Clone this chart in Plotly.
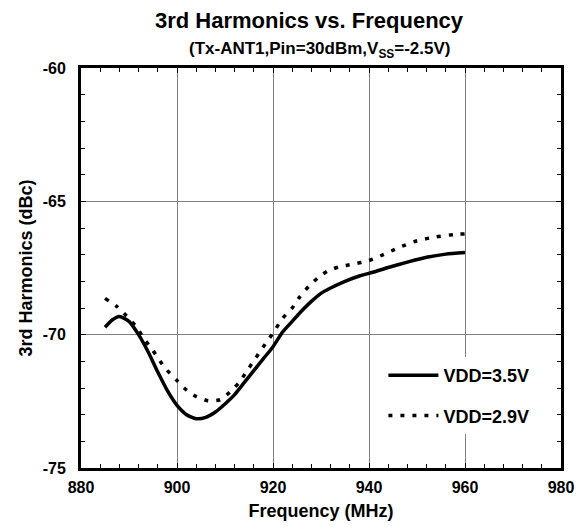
import plotly.graph_objects as go

# ---- data ----
freq_35 = [885, 886.5, 888, 890, 892, 894, 896, 898, 900, 902, 904, 906, 908, 910,
           912, 914, 916, 918, 920, 922, 924, 926, 928, 930, 932, 935, 938, 941,
           944, 948, 952, 956, 960]
h3_35 = [-69.72, -69.45, -69.32, -69.5, -70.0, -70.65, -71.4, -72.1, -72.65, -73.0,
         -73.15, -73.1, -72.9, -72.6, -72.25, -71.8, -71.35, -70.9, -70.45, -69.9,
         -69.5, -69.1, -68.75, -68.45, -68.25, -68.0, -67.8, -67.65, -67.48, -67.28,
         -67.1, -66.98, -66.92]

freq_29 = [885, 887.5, 889.5, 891.5, 893, 895, 897.5, 900, 902, 904, 906.5, 909, 911,
           913, 914.5, 916, 917.5, 919, 920.5, 922, 924, 925.5, 927.5, 929.5, 931.5,
           934, 936.5, 940, 943, 946, 950, 954, 958, 960]
h3_29 = [-68.64, -68.95, -69.3, -69.7, -70.12, -70.6, -71.25, -71.72, -72.08, -72.32,
         -72.48, -72.44, -72.16, -71.78, -71.38, -70.98, -70.58, -70.2, -69.8, -69.39,
         -69.0, -68.6, -68.18, -67.85, -67.6, -67.45, -67.36, -67.22, -67.0, -66.75,
         -66.48, -66.33, -66.24, -66.22]

series_names = ["VDD=3.5V", "VDD=2.9V"]

x_tick_vals = [880, 900, 920, 940, 960, 980]
x_tick_text = ["880", "900", "920", "940", "960", "980"]
y_tick_vals = [-75, -70, -65, -60]
y_tick_text = ["-75", "-70", "-65", "-60"]

title_text = "3rd Harmonics vs. Frequency"
subtitle_text = "(Tx-ANT1,Pin=30dBm,V<sub>SS</sub>=-2.5V)"
x_title = "Frequency (MHz)"
y_title = "3rd Harmonics (dBc)"

FONT = "Liberation Sans, Arial, sans-serif"

fig = go.Figure()
fig.add_trace(go.Scatter(
    x=freq_35, y=h3_35, mode="lines", name=series_names[0], legendgroup="a",
    line=dict(color="black", width=3.5, shape="spline", smoothing=0.6),
))
fig.add_trace(go.Scatter(
    x=freq_29, y=h3_29, mode="lines", name=series_names[1], legendgroup="b",
    line=dict(color="black", width=3.5, dash="4px,8px", shape="spline", smoothing=0.6),
))

axis_common = dict(
    showgrid=True, gridcolor="#808080", gridwidth=1,
    showline=True, linecolor="black", linewidth=3, mirror="allticks",
    ticks="inside", ticklen=5, tickcolor="black", tickwidth=1,
    zeroline=False, automargin=False,
    tickfont=dict(family=FONT, size=16, color="black", weight="bold"),
)

fig.update_xaxes(
    range=[880, 980], tickmode="array", tickvals=x_tick_vals, ticktext=x_tick_text,
    minor=dict(tickmode="linear", tick0=880, dtick=4, ticks="inside", ticklen=4,
               tickcolor="black", showgrid=False),
    title=dict(text=x_title, font=dict(family=FONT, size=18, color="black", weight="bold"),
               standoff=10),
    ticklabelstandoff=3,
    **axis_common,
)
fig.update_yaxes(
    range=[-75, -60], tickmode="array", tickvals=y_tick_vals, ticktext=y_tick_text,
    minor=dict(tickmode="linear", tick0=-75, dtick=1, ticks="inside", ticklen=4,
               tickcolor="black", showgrid=False),
    title=dict(text=y_title, font=dict(family=FONT, size=18, color="black", weight="bold"),
               standoff=6),
    ticklabelstandoff=9,
    **axis_common,
)

fig.update_layout(
    width=583, height=529,
    margin=dict(l=81, r=22, t=68, b=61),
    plot_bgcolor="white", paper_bgcolor="white",
    font=dict(family=FONT, color="black", weight="bold"),
    title=dict(text=title_text, x=0.530, xref="container", xanchor="center",
               y=0.962, yref="container", yanchor="middle",
               font=dict(family=FONT, size=22, color="black", weight="bold")),
    legend=dict(x=0.63, xanchor="left", y=0.2775, yanchor="top",
                bgcolor="white", borderwidth=0, traceorder="grouped",
                tracegroupgap=14, itemwidth=50,
                font=dict(family=FONT, size=18, color="black", weight="bold")),
    showlegend=True,
)

fig.add_annotation(
    text=subtitle_text, xref="paper", yref="paper", x=0.498, y=1.045,
    xanchor="center", yanchor="middle", showarrow=False,
    font=dict(family=FONT, size=17, color="black", weight="bold"),
)

fig.write_html("out.html", config={"displayModeBar": False},
               post_script="document.body.style.margin='0';")
